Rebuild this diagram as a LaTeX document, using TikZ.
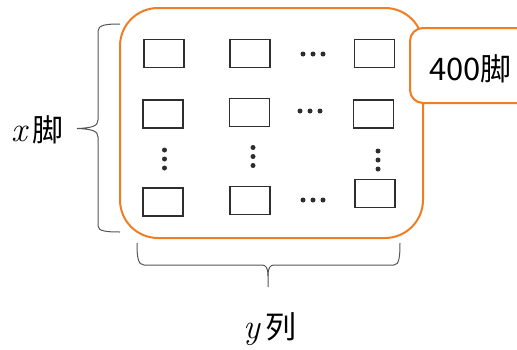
\documentclass[tikz,border=0pt]{standalone}
\usepackage{fontspec}
\setmainfont{Noto Sans CJK SC}
\newfontfamily\varfont{Latin Modern Roman}
\newcommand{\var}[1]{{\varfont\fontsize{35}{40}\selectfont\itshape #1}}
\begin{document}
\begin{tikzpicture}[x=1pt,y=-1pt,
  frame/.style={draw=boxorange, line width=2pt},
  cell/.style={draw=cellgray, line width=1.7pt, minimum width=40pt, minimum height=28pt, inner sep=0pt},
  brace/.style={draw=bracegray, line width=1pt},
  dot/.style={fill=cellgray, draw=none},
  lbl/.style={font=\fontsize{31}{36}\selectfont, inner sep=0pt}]
\definecolor{boxorange}{HTML}{EE7D24}
\definecolor{cellgray}{HTML}{2E2E2E}
\definecolor{bracegray}{HTML}{555555}
\useasboundingbox (0,0) rectangle (517,349);

% outer frame holding the grid
\draw[frame, rounded corners=38pt] (120,8) rectangle (423,238);

% grid cells: rows 1, 2 and last; columns 1, 2 and last
\node[cell] (c11) at (164,53.5) {};
\node[cell] (c12) at (250,53.5) {};
\node[cell] (c14) at (374.5,53.5) {};
\node[cell] (c21) at (163,114) {};
\node[cell] (c22) at (249.5,112.5) {};
\node[cell] (c24) at (373.5,114) {};
\node[cell] (c41) at (163,202) {};
\node[cell] (c42) at (250,200.5) {};
\node[cell] (c44) at (375,193.5) {};

% horizontal ellipses
\foreach \xx/\yy in {313/54, 310/111, 313/200}
  \foreach \d in {-10,0,10}
    \fill[dot] (\xx+\d,\yy) circle (2.5pt);
% vertical ellipses
\foreach \xx/\yy in {164.5/159, 253/156.5, 378/160}
  \foreach \d in {-9,0,9}
    \fill[dot] (\xx,\yy+\d) circle (2.5pt);

% label box overlapping the frame
\draw[frame, fill=white, rounded corners=13pt] (410,28) rectangle (560,103);
\node[lbl, anchor=west] (total) at (429,69) {400脚};

% left brace
\draw[brace] (120,24) .. controls (106,24) and (98,25) .. (98,31)
  -- (98,120) .. controls (98,126) and (92,128) .. (77,128.5)
  .. controls (92,129) and (98,131) .. (98,137)
  -- (98,226) .. controls (98,231) and (106,232) .. (120,232);
\node[lbl, anchor=east] (rows) at (64,130) {\var{x}\,脚};

% bottom brace
\draw[brace] (137,243) .. controls (137,257) and (138,265) .. (144,265)
  -- (262,265) .. controls (266,265) and (268,268) .. (268,276) -- (268,287);
\draw[brace] (268,276) .. controls (268,268) and (270,265) .. (274,265)
  -- (394,265) .. controls (399,265) and (400,257) .. (400,243);
\node[lbl] (cols) at (270,329) {\var{y}\,列};
\end{tikzpicture}
\end{document}
